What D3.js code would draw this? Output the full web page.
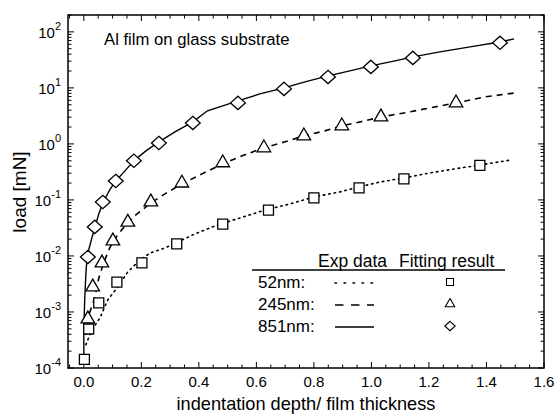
<!DOCTYPE html>
<html><head><meta charset="utf-8">
<script src="https://cdn.jsdelivr.net/npm/d3@7"></script>
<style>body{margin:0;background:#fff}svg{display:block}text{font-family:"Liberation Sans",Arial,Helvetica,sans-serif;fill:#000}</style>
</head><body>
<svg id="c" width="556" height="415"></svg>
<script>
// Experimental curves (x: depth/thickness, y: load mN)
const exp52x = [0.007,0.028,0.056,0.083,0.118,0.153,0.188,0.230,0.282,0.334,0.386,0.456,0.543,0.630,0.717,0.800,0.890,0.957,1.030,1.113,1.203,1.290,1.377,1.489];
const exp52y = [2.6e-4,4.8e-4,7.8e-4,1.64e-3,2.8e-3,5.2e-3,7.8e-3,0.0113,0.0139,0.0185,0.0247,0.0344,0.0477,0.066,0.085,0.113,0.139,0.171,0.209,0.247,0.303,0.358,0.42,0.52];
const exp245x = [0.007,0.021,0.038,0.052,0.070,0.090,0.115,0.143,0.177,0.233,0.282,0.341,0.403,0.483,0.560,0.626,0.699,0.765,0.838,0.897,0.977,1.033,1.134,1.203,1.294,1.395,1.496];
const exp245y = [3.9e-4,1.0e-3,1.8e-3,4.0e-3,7.8e-3,0.0139,0.0228,0.0344,0.052,0.088,0.128,0.193,0.279,0.44,0.64,0.85,1.09,1.39,1.71,2.10,2.58,3.03,3.73,4.40,5.40,6.9,8.1];
const exp851x = [0.0,0.0,0.003,0.007,0.010,0.017,0.028,0.038,0.052,0.066,0.090,0.111,0.143,0.174,0.216,0.261,0.317,0.379,0.430,0.536,0.612,0.696,0.769,0.849,0.925,0.998,1.082,1.144,1.238,1.343,1.447,1.496];
const exp851y = [1.3e-4,4.8e-4,1.6e-3,4.6e-3,7.8e-3,0.0128,0.021,0.032,0.056,0.088,0.151,0.218,0.33,0.50,0.75,1.09,1.64,2.47,3.9,5.86,7.8,10,12.8,16.4,20.1,24.7,30.3,35.8,44,54,66,75];
// Fitting results (markers)
const fit52x = [0.002,0.017,0.052,0.115,0.202,0.323,0.483,0.642,0.800,0.957,1.113,1.377];
const fit52y = [1.42e-4,4.97e-4,1.45e-3,3.4e-3,7.5e-3,0.0164,0.037,0.066,0.109,0.164,0.237,0.413];
const fit245x = [0.014,0.031,0.063,0.101,0.153,0.233,0.341,0.483,0.626,0.765,0.897,1.033,1.294];
const fit245y = [7.5e-4,2.8e-3,7.5e-3,0.0185,0.040,0.092,0.20,0.46,0.85,1.39,2.1,3.03,5.4];
const fit851x = [0.014,0.038,0.066,0.111,0.174,0.261,0.379,0.536,0.696,0.849,0.998,1.144,1.447];
const fit851y = [0.0096,0.033,0.092,0.218,0.50,1.04,2.37,5.4,9.6,15.7,23.7,34.3,63.7];
const xTicks = [0,0.2,0.4,0.6,0.8,1.0,1.2,1.4,1.6];
const yExps = [-4,-3,-2,-1,0,1,2];
const legendNames = ["52nm:","245nm:","851nm:"];

const svg = d3.select("#c");
const L=68,R=544,T=15,B=368;
const x = d3.scaleLinear().domain([-0.055,1.6]).range([L,R]);
const y = d3.scaleLog().domain([1e-4,200]).range([B,T]);

// frame
svg.append("rect").attr("x",L).attr("y",T).attr("width",R-L).attr("height",B-T)
  .attr("fill","none").attr("stroke","#000").attr("stroke-width",1.5);

// x ticks
const xg = svg.append("g").attr("stroke","#000").attr("stroke-width",1);
const xMinor = d3.range(-0.05,1.6001,0.05).filter(v=>v>-0.055);
xMinor.forEach(v=>{
  const major = xTicks.some(t=>Math.abs(t-v)<1e-6);
  const len = major?6:3.5;
  xg.append("line").attr("x1",x(v)).attr("x2",x(v)).attr("y1",B).attr("y2",B-len);
  xg.append("line").attr("x1",x(v)).attr("x2",x(v)).attr("y1",T).attr("y2",T+len);
});
svg.append("g").selectAll("text").data(xTicks).join("text")
  .attr("x",d=>x(d)).attr("y",387).attr("text-anchor","middle")
  .attr("font-size",15).text(d=>d.toFixed(1));

// y ticks
const yg = svg.append("g").attr("stroke","#000").attr("stroke-width",1);
yExps.forEach(e=>{
  for(let m=1;m<=9;m++){
    const v=m*Math.pow(10,e);
    if(v>200) break;
    const len = m===1?6:3.5;
    yg.append("line").attr("x1",L).attr("x2",L+len).attr("y1",y(v)).attr("y2",y(v));
    yg.append("line").attr("x1",R).attr("x2",R-len).attr("y1",y(v)).attr("y2",y(v));
  }
});
yExps.forEach(e=>{
  const t = svg.append("text").attr("x",61).attr("y",y(Math.pow(10,e))+6).attr("text-anchor","end").attr("font-size",15);
  t.append("tspan").text("10");
  t.append("tspan").attr("dy",-8).attr("font-size",11).text(e);
});

// axis titles
svg.append("text").attr("x",306).attr("y",410).attr("text-anchor","middle").attr("font-size",18.2)
  .text("indentation depth/ film thickness");
svg.append("text").attr("transform","translate(26,192) rotate(-90)").attr("text-anchor","middle").attr("font-size",19)
  .text("load [mN]");

// annotation
svg.append("text").attr("x",104).attr("y",45).attr("font-size",16.7).text("Al film on glass substrate");

// curves
const line = d3.line().x(d=>x(d[0])).y(d=>y(d[1]));
const styles = [
  {dash:"1.5,4", w:1.6, cap:"round", ldash:"1.5,7.5"},
  {dash:"6,5", w:1.6, cap:"butt", ldash:"8.5,7.5"},
  {dash:null, w:1.4, cap:"butt", ldash:null}
];
const exps = [[exp52x,exp52y],[exp245x,exp245y],[exp851x,exp851y]];
exps.forEach((s,i)=>{
  const pts = s[0].map((v,j)=>[v,s[1][j]]);
  svg.append("path").attr("d",line(pts)).attr("fill","none").attr("stroke","#000")
    .attr("stroke-width",styles[i].w).attr("stroke-dasharray",styles[i].dash)
    .attr("stroke-linecap",styles[i].cap);
});

// markers
function markerPath(i, scale){
  if(i===0) return d3.symbol().type(d3.symbolSquare).size(100*scale*scale)();
  if(i===1) return d3.symbol().type(d3.symbolTriangle).size(80*scale*scale)();
  const s=7.4*scale;
  return `M0,${-s*0.9}L${s},0L0,${s*0.9}L${-s},0Z`;
}
const fits = [[fit52x,fit52y],[fit245x,fit245y],[fit851x,fit851y]];
fits.forEach((s,i)=>{
  svg.append("g").selectAll("path").data(s[0].map((v,j)=>[v,s[1][j]])).join("path")
    .attr("transform",d=>`translate(${x(d[0])},${y(d[1])})`)
    .attr("d",markerPath(i,1)).attr("fill","#fff").attr("stroke","#000").attr("stroke-width",1.3);
});

// legend
svg.append("line").attr("x1",252).attr("x2",505).attr("y1",270).attr("y2",270).attr("stroke","#000").attr("stroke-width",1.5);
svg.append("text").attr("x",318).attr("y",267).attr("font-size",17.5).text("Exp data");
svg.append("text").attr("x",399).attr("y",267).attr("font-size",17.5).text("Fitting result");
legendNames.forEach((n,i)=>{
  const yy = 288+i*22;
  svg.append("text").attr("x",258).attr("y",yy).attr("font-size",17).text(n);
  svg.append("line").attr("x1",335).attr("x2",374).attr("y1",yy-5).attr("y2",yy-5)
    .attr("stroke","#000").attr("stroke-width",styles[i].w).attr("stroke-dasharray",styles[i].ldash)
    .attr("stroke-linecap",styles[i].cap);
  svg.append("path").attr("transform",`translate(450,${yy-6})`).attr("d",markerPath(i,0.7))
    .attr("fill","#fff").attr("stroke","#000").attr("stroke-width",1.1);
});
</script>
</body></html>
